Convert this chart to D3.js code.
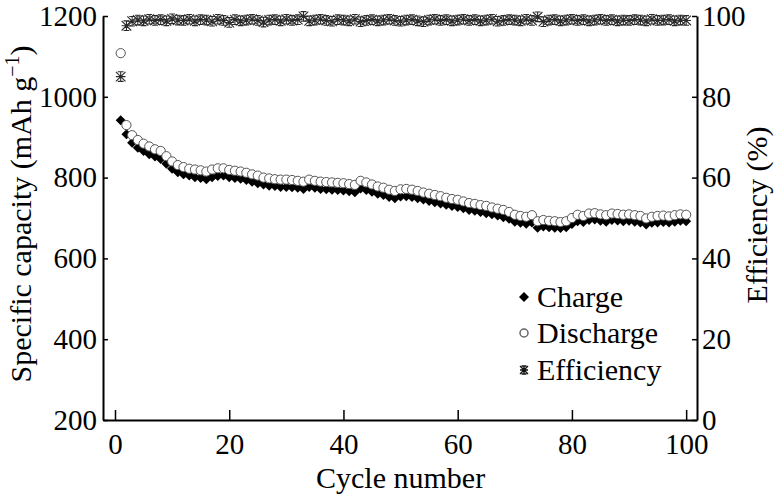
<!DOCTYPE html>
<html><head>
<script src="https://cdn.jsdelivr.net/npm/d3@7/dist/d3.min.js"></script>
</head><body style="margin:0"><svg id="c" width="776" height="497"></svg>
<script>
const cycles = d3.range(1, 101);
const discharge = [1108,930,905,893,884,877,870,866,853,840,831,826,822,820,818,815,820,823,823,819,817,815,812,808,805,800,798,796,795,795,794,792,790,795,792,790,789,788,787,786,784,782,792,788,783,778,775,770,767,771,772,770,767,763,760,757,754,750,747,745,741,737,735,732,730,726,723,720,715,708,705,703,707,692,695,693,692,690,692,700,708,705,711,712,709,707,711,710,708,709,707,705,699,703,705,706,704,707,709,708];
const charge = [942,907,886,874,866,858,852,846,834,822,813,808,805,801,799,796,801,804,805,801,799,797,794,790,786,783,780,779,777,777,776,775,772,777,775,772,771,770,769,768,766,764,773,769,765,760,757,752,749,753,754,752,749,746,742,739,736,733,730,727,724,720,718,715,712,709,706,702,698,691,688,686,689,676,679,677,676,675,677,685,692,690,695,696,693,691,695,694,692,693,691,689,684,688,689,690,689,691,693,692];
const efficiency = [85.0,97.6,98.7,99.0,98.8,99.2,98.9,99.1,98.8,99.3,99.0,98.9,99.2,98.8,99.1,99.0,98.7,99.2,98.9,98.4,99.1,98.8,99.0,99.2,98.9,98.5,99.0,99.1,98.8,99.2,98.9,99.1,99.9,98.8,99.0,99.2,98.9,98.7,99.1,99.0,98.8,99.2,98.6,98.9,99.1,98.8,99.0,99.2,98.9,98.7,99.0,99.1,98.8,98.6,99.0,99.2,98.9,99.1,98.8,99.0,99.2,98.9,99.1,98.8,99.0,99.2,98.7,98.9,99.1,99.0,98.8,99.2,98.9,99.8,98.6,99.0,99.1,98.8,99.0,99.2,98.9,99.1,98.8,99.0,99.2,98.9,99.1,98.8,99.0,98.9,99.1,99.0,98.8,99.2,98.9,99.0,99.1,98.8,99.0,98.9];
const xTicks = [0,20,40,60,80,100];
const yLeftTicks = [200,400,600,800,1000,1200];
const yRightTicks = [0,20,40,60,80,100];
const legendLabels = ["Charge","Discharge","Efficiency"];

const FONT = "Liberation Serif";
const FS = 30, TFS = 29;
const svg = d3.select("#c");
const x = d3.scaleLinear().domain([-2.1, 101.9]).range([103, 697]);
const yL = d3.scaleLinear().domain([200, 1200]).range([420, 16]);
const yR = d3.scaleLinear().domain([0, 100]).range([420, 16]);

function txt(sel, s){ return sel.attr("font-family",FONT).attr("font-size",s||FS).attr("fill","#000"); }

function styleAxis(g){
  g.attr("font-family", FONT).attr("font-size", TFS);
  g.selectAll("path.domain").attr("stroke","#000").attr("stroke-width",2);
  g.selectAll(".tick line").attr("stroke","#000").attr("stroke-width",1.5);
  g.selectAll("text").call(txt, TFS);
}
svg.append("g").attr("transform","translate(0,420)")
  .call(d3.axisBottom(x).tickValues(xTicks).tickSizeInner(-10).tickSizeOuter(0).tickPadding(13).tickFormat(d3.format("d")))
  .call(styleAxis);
svg.append("g").attr("transform","translate(103,0)")
  .call(d3.axisLeft(yL).tickValues(yLeftTicks).tickSizeInner(-5).tickSizeOuter(0).tickPadding(6).tickFormat(d3.format("d")))
  .call(styleAxis);
svg.append("g").attr("transform","translate(697,0)")
  .call(d3.axisRight(yR).tickValues(yRightTicks).tickSizeInner(-5).tickSizeOuter(0).tickPadding(5).tickFormat(d3.format("d")))
  .call(styleAxis);

const diamond = s => `M0,${-s}L${s},0L0,${s}L${-s},0Z`;
const star = r => `M${-r},${-r}L${r},${r}M${r},${-r}L${-r},${r}M${-r},0L${r},0M0,${-r}L0,${r}M${-r*0.6},${-r}L${r*0.6},${-r}M${-r*0.6},${r}L${r*0.6},${r}`;

svg.append("g").selectAll("path").data(cycles).join("path")
  .attr("d", diamond(5)).attr("transform", (c,i)=>`translate(${x(c)},${yL(charge[i])})`)
  .attr("fill","#000");
svg.append("g").selectAll("circle").data(cycles).join("circle")
  .attr("cx", c=>x(c)).attr("cy",(c,i)=>yL(discharge[i])).attr("r",4.6)
  .attr("fill","#fff").attr("stroke","#555").attr("stroke-width",1);
svg.append("g").selectAll("path").data(cycles).join("path")
  .attr("d", star(4.8)).attr("transform",(c,i)=>`translate(${x(c)},${yR(efficiency[i])})`)
  .attr("fill","none").attr("stroke","#2a2a2a").attr("stroke-width",1.1);

// legend
const lg = svg.append("g");
const ly = [297, 333, 370];
lg.append("path").attr("d", diamond(5)).attr("transform",`translate(524,${ly[0]})`).attr("fill","#000");
lg.append("circle").attr("cx",524).attr("cy",ly[1]).attr("r",4).attr("fill","#fff").attr("stroke","#666").attr("stroke-width",1.5);
lg.append("path").attr("d", star(4)).attr("transform",`translate(524,${ly[2]})`).attr("fill","none").attr("stroke","#111").attr("stroke-width",1.4);
legendLabels.forEach((t,i)=>{
  lg.append("text").attr("x",537).attr("y",ly[i]+10).call(txt).text(t);
});

// axis titles
svg.append("text").attr("x",(x(0)+x(100))/2).attr("y",488).attr("text-anchor","middle").call(txt).text("Cycle number");
const lt = svg.append("text").attr("transform","translate(31,214) rotate(-90)").attr("text-anchor","middle").call(txt);
lt.append("tspan").text("Specific capacity (mAh g");
lt.append("tspan").attr("dy",-12).attr("font-size",20).text("\u22121");
lt.append("tspan").attr("dy",12).text(")");
svg.append("text").attr("transform","translate(767,215) rotate(-90)").attr("text-anchor","middle").call(txt).text("Efficiency (%)");
</script></body></html>
